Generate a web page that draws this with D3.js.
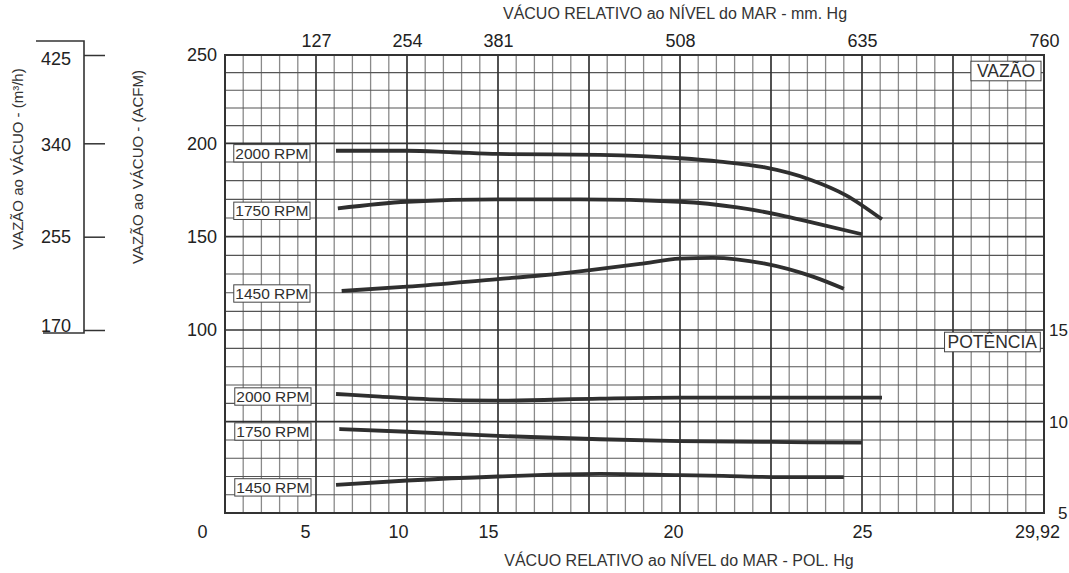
<!DOCTYPE html>
<html><head><meta charset="utf-8">
<script src="https://cdn.jsdelivr.net/npm/d3@7"></script>
<style>
body{margin:0;background:#fff;}
svg{display:block;font-family:"Liberation Sans",Arial,Helvetica,sans-serif;}
</style>
</head><body>
<svg id="c" width="1069" height="573"></svg>
<script>
// ---------------- DATA ----------------
const bottomTicks = [0, 5, 10, 15, 20, 25, 29.92];      // POL. Hg
const topTicks    = [127, 254, 381, 508, 635, 760];     // mm. Hg
const acfmTicks   = [100, 150, 200, 250];               // ACFM
const m3hTicks    = [170, 255, 340, 425];               // m³/h
const powerTicks  = [5, 10, 15];                        // POTÊNCIA
const rpmNames    = ["2000 RPM", "1750 RPM", "1450 RPM"];

// Flow (VAZÃO, ACFM) vs vacuum (POL. Hg)
const flowVac2000 = [6.1, 10, 12.5, 15, 17.8, 20, 21.1, 22.3, 23.6, 24.55, 25.54];
const flow2000    = [196, 196, 195.2, 194.3, 193.8, 192, 190.2, 187.2, 180.4, 172.3, 159.3];
const flowVac1750 = [6.2, 10, 15, 17.25, 20, 21.57, 22.75, 23.65, 25];
const flow1750    = [165.2, 168.7, 170, 170, 168.7, 165.7, 161.6, 157.5, 151.3];
const flowVac1450 = [6.41, 10, 15, 16.15, 17.53, 18.9, 20, 20.9, 22.3, 23.65, 24.5];
const flow1450    = [120.9, 123.2, 127.3, 129.2, 132.1, 135.4, 138.3, 138.7, 135.7, 128.6, 122.1];

// Power (POTÊNCIA) vs vacuum (POL. Hg)
const powVac2000 = [6.1, 8.52, 11.26, 15, 17.8, 20, 25.54];
const pow2000    = [11.51, 11.37, 11.22, 11.15, 11.26, 11.31, 11.31];
const powVac1750 = [6.28, 10, 15, 17.8, 20, 22.53, 25];
const pow1750    = [9.6, 9.45, 9.22, 9.04, 8.94, 8.89, 8.85];
const powVac1450 = [6.1, 10, 15, 17.8, 20, 21.18, 22.53, 24.5];
const pow1450    = [6.54, 6.78, 7.0, 7.14, 7.07, 7.03, 6.97, 6.97];

// ---------------- LAYOUT ----------------
const svg = d3.select("#c");
const plotL = 225, plotR = 1044, plotT = 55, plotB = 513;
const colW = (plotR - plotL) / 45;
const ink = "#2f2f2f";

const x = d3.scaleLinear()
  .domain(bottomTicks)
  .range([0, 5, 10, 15, 25, 35, 45].map(c => plotL + c * colW));
const xMM = d3.scaleLinear()
  .domain(bottomTicks.map(v => v * 25.4))
  .range(x.range());
const y = d3.scaleLinear()
  .domain([0, 50, 100, 150, 200, 250])
  .range([plotB, 421.7, 330, 236.7, 143.3, plotT]);
const yM = d3.scaleLinear()
  .domain(y.domain().map(v => v * 1.7))
  .range(y.range());
const yP = d3.scaleLinear()
  .domain(powerTicks)
  .range([y(0), y(50), y(100)]);

// ---------------- GRID ----------------
const grid = svg.append("g");
const cols = d3.range(46);
const rows = d3.range(0, 251, 10);
grid.selectAll("line.vmin").data(cols.filter(i => i % 5)).join("line")
  .attr("x1", i => plotL + i * colW).attr("x2", i => plotL + i * colW)
  .attr("y1", plotT).attr("y2", plotB)
  .attr("stroke", "#8a8a8a").attr("stroke-width", 1.3);
grid.selectAll("line.hmin").data(rows.filter(v => v % 50)).join("line")
  .attr("x1", plotL).attr("x2", plotR)
  .attr("y1", v => y(v)).attr("y2", v => y(v))
  .attr("stroke", "#555").attr("stroke-width", 1.1);
grid.selectAll("line.vmaj").data(cols.filter(i => i % 5 === 0)).join("line")
  .attr("x1", i => plotL + i * colW).attr("x2", i => plotL + i * colW)
  .attr("y1", plotT).attr("y2", plotB)
  .attr("stroke", "#333").attr("stroke-width", 1.7);
grid.selectAll("line.hmaj").data(rows.filter(v => v % 50 === 0)).join("line")
  .attr("x1", plotL).attr("x2", plotR)
  .attr("y1", v => y(v)).attr("y2", v => y(v))
  .attr("stroke", "#333").attr("stroke-width", 1.7);
grid.append("rect").attr("x", plotL).attr("y", plotT)
  .attr("width", plotR - plotL).attr("height", plotB - plotT)
  .attr("fill", "none").attr("stroke", "#333").attr("stroke-width", 2);

// ---------------- CURVES ----------------
const flowSeries = [[flowVac2000, flow2000], [flowVac1750, flow1750], [flowVac1450, flow1450]];
const powSeries  = [[powVac2000, pow2000], [powVac1750, pow1750], [powVac1450, pow1450]];
const lineF = d3.line().x(d => x(d[0])).y(d => y(d[1])).curve(d3.curveMonotoneX);
const lineP = d3.line().x(d => x(d[0])).y(d => yP(d[1])).curve(d3.curveMonotoneX);
const curves = svg.append("g").attr("fill", "none").attr("stroke", ink)
  .attr("stroke-width", 3.8);
flowSeries.forEach(([xs, ys]) => curves.append("path").attr("d", lineF(xs.map((v, i) => [v, ys[i]]))));
powSeries.forEach(([xs, ys]) => curves.append("path").attr("d", lineP(xs.map((v, i) => [v, ys[i]]))));

// ---------------- RPM LABELS ----------------
function boxLabel(g, txt, xRight, yCenter, size, padX) {
  const t = g.append("text").text(txt).attr("font-size", size).attr("fill", ink)
    .attr("text-anchor", "end").attr("x", xRight - padX).attr("y", yCenter)
    .attr("dy", "0.36em");
  const bb = t.node().getBBox();
  const h = size * 1.12;
  g.insert("rect", "text").attr("x", bb.x - padX).attr("y", yCenter - h / 2)
    .attr("width", bb.width + 2 * padX).attr("height", h)
    .attr("fill", "#fff").attr("stroke", "#444").attr("stroke-width", 1);
}
const lbl = svg.append("g");
flowSeries.forEach(([xs, ys], i) => {
  boxLabel(lbl.append("g"), rpmNames[i], x(5) - 6, y(ys[0]) + 2.5, 15.5, 1.5);
});
powSeries.forEach(([xs, ys], i) => {
  boxLabel(lbl.append("g"), rpmNames[i], x(5) - 5, yP(ys[0]) + 2.5, 15.5, 1.5);
});
boxLabel(lbl.append("g"), "VAZÃO", x(29.92) - 3, y(250) + 16, 17.5, 6);
boxLabel(lbl.append("g"), "POTÊNCIA", x(29.92) - 4, yP(15) + 12, 17.5, 3);

// ---------------- AXES ----------------
function styleAxis(g, size) {
  g.select(".domain").remove();
  g.selectAll("text").attr("font-size", size).attr("fill", "#222")
    .attr("font-family", "Liberation Sans, Arial, sans-serif");
  g.selectAll(".tick line").attr("stroke", "#333").attr("stroke-width", 1.5);
}
const gTop = svg.append("g").attr("transform", `translate(0,${plotT})`)
  .call(d3.axisTop(xMM).tickValues(topTicks).tickSize(0).tickPadding(8));
styleAxis(gTop, 18);

const nudge = {0: -23, 5: -11, 10: -9, 15: -10, 20: -7, 25: 0, 29.92: -7};
const gBot = svg.append("g").attr("transform", `translate(0,${plotB})`)
  .call(d3.axisBottom(x).tickValues(bottomTicks).tickSize(0).tickPadding(12)
    .tickFormat(d => d === 29.92 ? "29,92" : d));
styleAxis(gBot, 18);
gBot.selectAll(".tick text").attr("dx", d => nudge[d] || 0);

const gLeft = svg.append("g").attr("transform", `translate(${plotL},0)`)
  .call(d3.axisLeft(y).tickValues(acfmTicks).tickSize(0).tickPadding(8));
styleAxis(gLeft, 18);

const gRight = svg.append("g").attr("transform", `translate(${plotR},0)`)
  .call(d3.axisRight(yP).tickValues(powerTicks).tickSize(0).tickPadding(5));
styleAxis(gRight, 17);
gRight.selectAll(".tick text").attr("dx", d => d === 5 ? 9 : 0);

const axM = 84;
const mNudge = {425: 4, 340: 1, 255: 0, 170: -4};
const gM = svg.append("g").attr("transform", `translate(${axM},0)`)
  .call(d3.axisLeft(yM).tickValues(m3hTicks).tickSize(-21).tickPadding(13));
styleAxis(gM, 18);
gM.selectAll(".tick text").attr("y", d => mNudge[d] || 0);
svg.append("path")
  .attr("d", `M36,41H${axM}V333H43`)
  .attr("fill", "none").attr("stroke", "#333").attr("stroke-width", 1.6);

// ---------------- TITLES ----------------
svg.append("text").text("VÁCUO RELATIVO ao NÍVEL do MAR - mm. Hg")
  .attr("x", x(20) - 5).attr("y", 19).attr("text-anchor", "middle")
  .attr("font-size", 16).attr("fill", "#333");
svg.append("text").text("VÁCUO RELATIVO ao NÍVEL do MAR - POL. Hg")
  .attr("x", x(20) - 1).attr("y", 566).attr("text-anchor", "middle")
  .attr("font-size", 16).attr("fill", "#333");
svg.append("text").text("VAZÃO ao VÁCUO - (m³/h)")
  .attr("transform", "translate(17,159) rotate(-90)")
  .attr("text-anchor", "middle").attr("dominant-baseline", "central")
  .attr("font-size", 15).attr("fill", "#333");
svg.append("text").text("VAZÃO ao VÁCUO - (ACFM)")
  .attr("transform", "translate(137,167) rotate(-90)")
  .attr("text-anchor", "middle").attr("dominant-baseline", "central")
  .attr("font-size", 15).attr("fill", "#333");
</script>
</body></html>
